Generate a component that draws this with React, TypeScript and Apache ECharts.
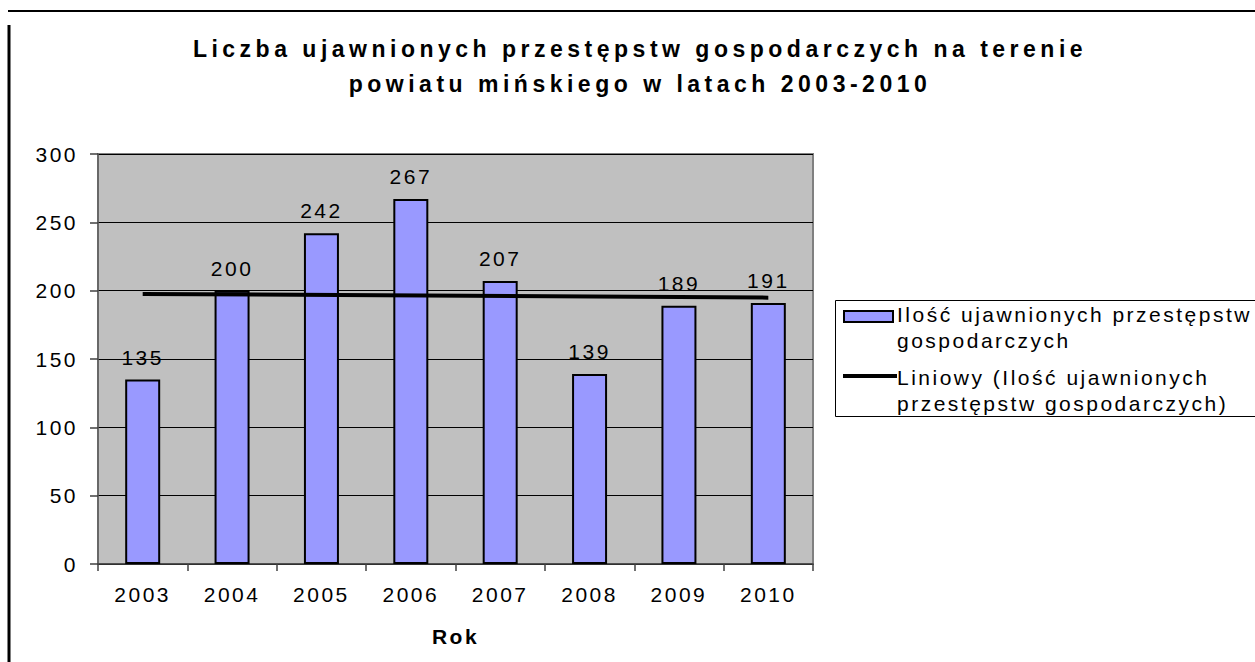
import React, { useEffect, useRef } from "react";
import * as echarts from "echarts";

const titleLines = [
  "Liczba ujawnionych przestępstw gospodarczych na terenie",
  "powiatu mińskiego w latach 2003-2010",
];
const years = ["2003", "2004", "2005", "2006", "2007", "2008", "2009", "2010"];
const values = [135, 200, 242, 267, 207, 139, 189, 191];
// linear trend line read at the first and last category
const trendValues: (number | null)[] = [197.6, null, null, null, null, null, null, 194.9];
const xAxisName = "Rok";
const barName = "Ilość ujawnionych przestępstw gospodarczych";
const trendName = "Liniowy (Ilość ujawnionych przestępstw gospodarczych)";
const barLegendLines = ["Ilość ujawnionych przestępstw", "gospodarczych"];
const trendLegendLines = ["Liniowy (Ilość ujawnionych", "przestępstw gospodarczych)"];

const FONT = '"Liberation Sans", Arial, sans-serif';
const BAR_COLOR = "#9999FF";

export default function App() {
  const ref = useRef<HTMLDivElement>(null);

  useEffect(() => {
    document.body.style.margin = "0";
    if (!ref.current) return;
    const chart = echarts.init(ref.current, undefined, { renderer: "svg" });
    const txt = { fontFamily: FONT, fontSize: 21, color: "#000" };
    chart.setOption({
      animation: false,
      backgroundColor: "#fff",
      title: {
        text: titleLines.join("\n"),
        left: 640,
        top: 31,
        padding: 0,
        textAlign: "center",
        textStyle: {
          fontFamily: FONT,
          fontSize: 23,
          fontWeight: "bold",
          color: "#000",
          lineHeight: 35,
        },
      },
      grid: {
        left: 98,
        right: 442,
        top: 154,
        bottom: 98,
        show: true,
        backgroundColor: "#C0C0C0",
        borderColor: "#808080",
        borderWidth: 2,
      },
      xAxis: {
        type: "category",
        data: years,
        boundaryGap: true,
        name: xAxisName,
        nameLocation: "middle",
        nameGap: 62,
        nameTextStyle: { ...txt, fontWeight: "bold" },
        axisLine: { show: true, lineStyle: { color: "#404040", width: 1.5 } },
        axisTick: { show: true, length: 7, alignWithLabel: false, lineStyle: { color: "#404040", width: 1.5 } },
        axisLabel: { ...txt, margin: 20 },
        splitLine: { show: false },
      },
      yAxis: {
        type: "value",
        min: 0,
        max: 300,
        interval: 50,
        axisLine: { show: true, lineStyle: { color: "#606060", width: 1.5 } },
        axisTick: { show: true, length: 8, lineStyle: { color: "#404040", width: 1.5 } },
        axisLabel: { ...txt, margin: 20 },
        splitLine: { show: true, lineStyle: { color: "#000", width: 1 } },
      },
      series: [
        {
          name: barName,
          type: "bar",
          data: values,
          barWidth: 35,
          itemStyle: { color: BAR_COLOR, borderColor: "#000", borderWidth: 2 },
          label: { show: true, position: "top", distance: 12, ...txt },
          z: 2,
        },
        {
          name: trendName,
          type: "line",
          data: trendValues,
          connectNulls: true,
          symbol: "none",
          lineStyle: { color: "#000", width: 4 },
          z: 5,
        },
      ],
      graphic: [
        { type: "line", shape: { x1: 8, y1: 11, x2: 1260, y2: 11 }, style: { stroke: "#000", lineWidth: 2 } },
        { type: "line", shape: { x1: 9, y1: 25, x2: 9, y2: 670 }, style: { stroke: "#000", lineWidth: 3 } },
        { type: "rect", shape: { x: 835.5, y: 300.5, width: 430, height: 116 }, style: { fill: "#fff", stroke: "#000", lineWidth: 1 } },
        { type: "rect", shape: { x: 844, y: 311, width: 49, height: 11 }, style: { fill: BAR_COLOR, stroke: "#000", lineWidth: 2 } },
        { type: "line", shape: { x1: 843, y1: 376, x2: 897, y2: 376 }, style: { stroke: "#000", lineWidth: 4 } },
        {
          type: "text",
          x: 897,
          y: 301,
          style: { text: barLegendLines.join("\n"), font: `21px ${FONT}`, fill: "#000", lineHeight: 26, textAlign: "left", textVerticalAlign: "top" },
        },
        {
          type: "text",
          x: 897,
          y: 364,
          style: { text: trendLegendLines.join("\n"), font: `21px ${FONT}`, fill: "#000", lineHeight: 26, textAlign: "left", textVerticalAlign: "top" },
        },
      ],
    });
    return () => chart.dispose();
  }, []);

  return (
    <>
      <style>{`
        #chart text { letter-spacing: 2.5px; }
        #chart text[style*="23px"] { letter-spacing: 4.5px; }
      `}</style>
      <div id="chart" ref={ref} style={{ width: 1255, height: 662 }} />
    </>
  );
}
